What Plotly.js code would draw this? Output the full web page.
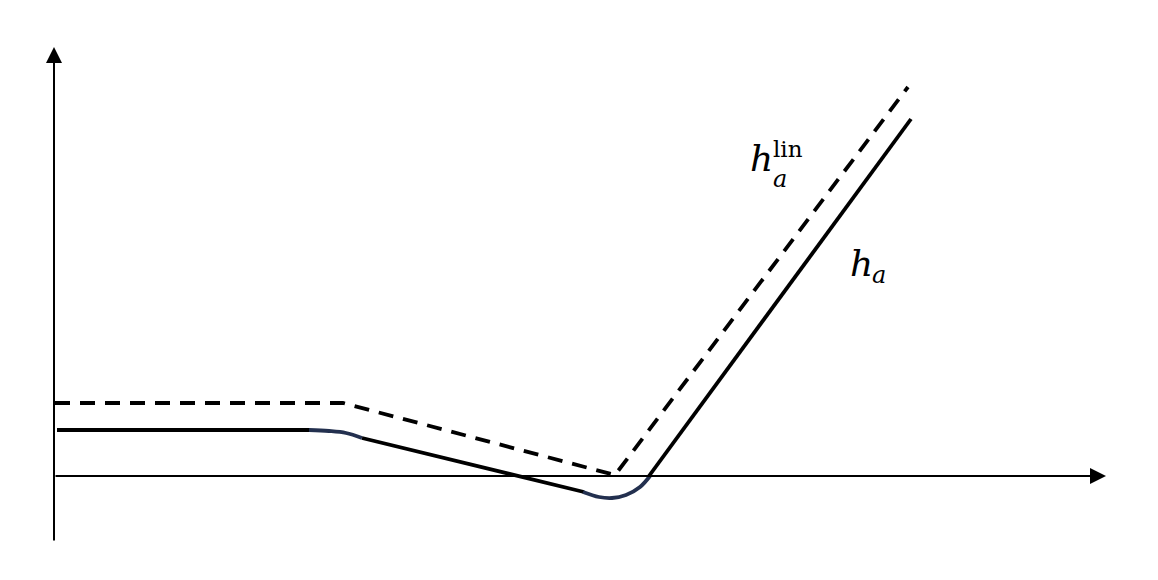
<!DOCTYPE html>
<html>
<head>
<meta charset="utf-8">
<script src="https://cdn.plot.ly/plotly-3.0.1.min.js"></script>
<style>html,body{margin:0;padding:0;background:#fff;}#chart{width:1158px;height:580px;}</style>
</head>
<body>
<div id="chart"></div>
<script>
// Values (origin at the axes crossing, y upward)
const linX = [1, 289, 561, 854];
const linY = [73, 73, 1, 389];

const flatX = [3, 256];
const flatY = [46, 46];
const bend1X = [255, 275, 292, 308];
const bend1Y = [46, 45, 43, 38];
const slopeX = [308, 530];
const slopeY = [38, -16];
const bend2X = [529, 545, 558, 572, 586, 596];
const bend2Y = [-16, -21, -22, -19, -11, 0];
const riseX = [595, 857];
const riseY = [0, 357];

const black = '#000000';
const navy = '#23304f';
const lw = 3.8;

const traces = [
  {x: linX, y: linY, mode: 'lines', line: {color: black, width: lw, dash: '15px,10px'}},
  {x: flatX, y: flatY, mode: 'lines', line: {color: black, width: lw}},
  {x: bend1X, y: bend1Y, mode: 'lines', line: {color: navy, width: lw, shape: 'spline'}},
  {x: slopeX, y: slopeY, mode: 'lines', line: {color: black, width: lw}},
  {x: bend2X, y: bend2Y, mode: 'lines', line: {color: navy, width: lw, shape: 'spline'}},
  {x: riseX, y: riseY, mode: 'lines', line: {color: black, width: lw}}
];

const serif = 'DejaVu Serif, Liberation Serif, serif';

function glyph(x, y, text, size) {
  return {x: x, y: y, xref: 'x', yref: 'y', xanchor: 'left', yanchor: 'middle', showarrow: false,
          text: text, font: {family: serif, size: size, color: black}, borderpad: 0};
}

const layout = {
  width: 1158, height: 580,
  margin: {l: 0, r: 0, t: 0, b: 0},
  paper_bgcolor: '#fff', plot_bgcolor: '#fff',
  showlegend: false,
  xaxis: {range: [-54, 1104], visible: false, fixedrange: true},
  yaxis: {range: [-104, 476], visible: false, fixedrange: true},
  annotations: [
    // axes with arrows
    {x: 1052, y: 0, ax: 0, ay: 0, xref: 'x', yref: 'y', axref: 'x', ayref: 'y',
     text: '', showarrow: true, arrowhead: 2, arrowsize: 1.6, arrowwidth: 2, arrowcolor: black, standoff: 0},
    {x: 0, y: 429, ax: 0, ay: -66, xref: 'x', yref: 'y', axref: 'x', ayref: 'y',
     text: '', showarrow: true, arrowhead: 2, arrowsize: 1.6, arrowwidth: 2, arrowcolor: black, standoff: 0},
    // label h_a^lin
    glyph(695, 318, '<i>h</i>', 36),
    glyph(718, 297, '<i>a</i>', 24),
    glyph(718, 327, 'lin', 23),
    // label h_a
    glyph(795, 213, '<i>h</i>', 36),
    glyph(817, 201, '<i>a</i>', 24)
  ]
};

Plotly.newPlot('chart', traces, layout, {staticPlot: true, displayModeBar: false});
</script>
</body>
</html>
